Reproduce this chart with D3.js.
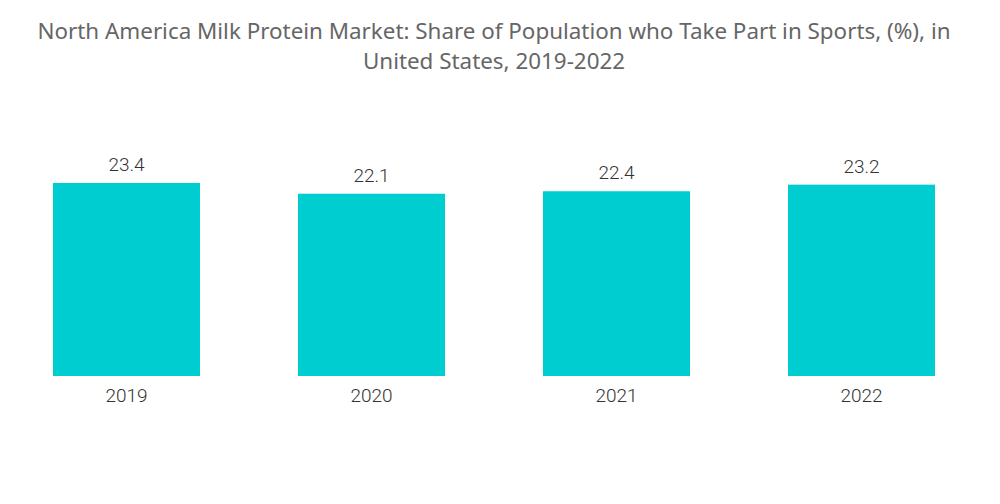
<!DOCTYPE html>
<html lang="en">
<head>
  <meta charset="UTF-8" />
  <title>Share of Population who Take Part in Sports</title>
  <script src="https://cdn.jsdelivr.net/npm/d3@7"></script>
  <style>
    body {
      margin: 0;
      background-color: #fff;
    }

    .title {
      font-family: "Noto Sans", sans-serif;
      font-size: 22.4px;
      fill: #666;
    }

    .label, .tick-label {
      font-family: Roboto, sans-serif;
      font-weight: 300;
      font-size: 19px;
      fill: #333;
    }
  </style>
</head>
<body>
  <div id="chart"></div>

  <script>
    const years = ["2019", "2020", "2021", "2022"];
    const shares = [23.4, 22.1, 22.4, 23.2];
    const titleLines = [
      "North America Milk Protein Market: Share of Population who Take Part in Sports, (%), in",
      "United States, 2019-2022"
    ];

    const width = 1000;
    const height = 504;
    const baseline = 376;

    const svg = d3.select("#chart")
      .append("svg")
      .attr("width", width)
      .attr("height", height);

    svg.selectAll(".title")
      .data(titleLines)
      .enter()
      .append("text")
      .attr("class", "title")
      .attr("x", 494)
      .attr("y", (d, i) => 39 + i * 30)
      .attr("text-anchor", "middle")
      .text(d => d);

    const xScale = d3.scaleBand()
      .domain(years)
      .range([4, 984])
      .paddingInner(0.4)
      .paddingOuter(0.2);

    const yScale = d3.scaleLinear()
      .domain([0, 23.4])
      .range([baseline, 183]);

    const data = years.map((y, i) => ({ year: y, value: shares[i] }));

    svg.selectAll(".bar")
      .data(data)
      .enter()
      .append("rect")
      .attr("class", "bar")
      .attr("x", d => xScale(d.year))
      .attr("y", d => yScale(d.value))
      .attr("width", xScale.bandwidth())
      .attr("height", d => baseline - yScale(d.value))
      .attr("fill", "#00cdd0");

    svg.selectAll(".label")
      .data(data)
      .enter()
      .append("text")
      .attr("class", "label")
      .attr("x", d => xScale(d.year) + xScale.bandwidth() / 2)
      .attr("y", d => yScale(d.value) - 12)
      .attr("text-anchor", "middle")
      .text(d => d.value.toFixed(1));

    // x axis, labels only
    const xAxis = svg.append("g")
      .attr("transform", `translate(0, ${baseline})`)
      .call(d3.axisBottom(xScale).tickSize(0).tickPadding(8));

    xAxis.select(".domain").remove();
    xAxis.selectAll("text")
      .attr("class", "tick-label")
      .attr("font-family", null)
      .attr("font-size", null)
      .attr("fill", null)
      .attr("dy", "0.95em");
  </script>
</body>
</html>
